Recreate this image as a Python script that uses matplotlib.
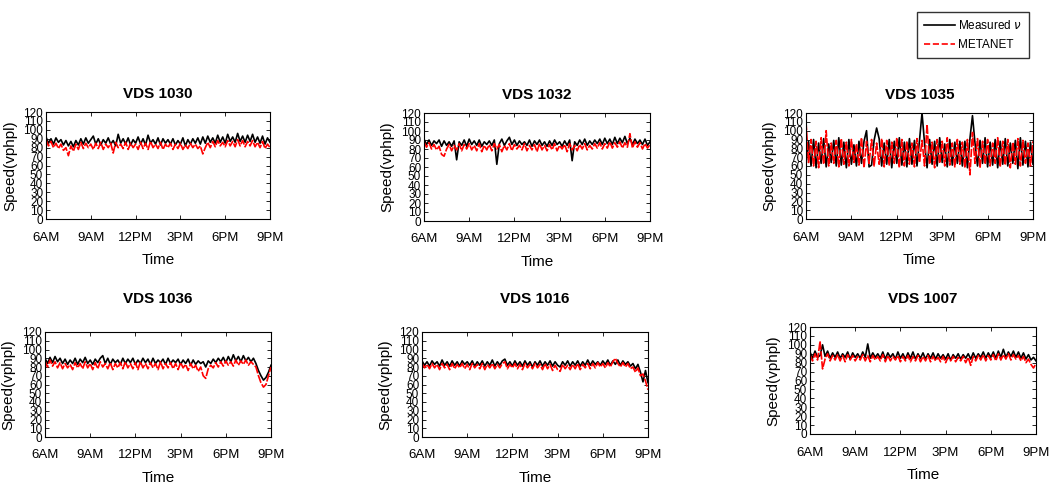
import numpy as np
import matplotlib.pyplot as plt
from matplotlib.lines import Line2D

plt.rcParams['font.family'] = ['Liberation Sans Narrow', 'Liberation Sans', 'DejaVu Sans']

# sampling every 10 minutes from 6AM to 9PM
hours = np.linspace(6, 21, 91)
tick_hours = [6, 9, 12, 15, 18, 21]
tick_labels = ['6AM', '9AM', '12PM', '3PM', '6PM', '9PM']

stations = ['VDS 1030', 'VDS 1032', 'VDS 1035', 'VDS 1036', 'VDS 1016', 'VDS 1007']

meas_1030 = [92, 85, 90, 84, 91, 86, 89, 83, 88, 82,
             87, 81, 88, 83, 90, 84, 91, 85, 89, 93,
             84, 90, 83, 89, 85, 91, 84, 88, 82, 95,
             85, 90, 84, 91, 83, 89, 85, 92, 84, 90,
             83, 94, 85, 89, 84, 91, 83, 90, 85, 89,
             84, 90, 83, 88, 84, 91, 82, 89, 84, 90,
             85, 91, 84, 92, 85, 93, 86, 91, 85, 94,
             86, 92, 85, 95, 87, 92, 86, 96, 87, 93,
             86, 94, 87, 95, 86, 92, 85, 93, 84, 91, 86]
model_1030 = [89, 82, 87, 80, 85, 79, 84, 77, 80, 71,
              82, 76, 84, 78, 86, 79, 85, 80, 84, 78,
              85, 79, 86, 78, 84, 80, 85, 74, 86, 80,
              84, 79, 86, 78, 85, 80, 84, 78, 86, 79,
              85, 78, 87, 80, 84, 79, 86, 78, 84, 80,
              85, 78, 84, 79, 85, 78, 83, 79, 85, 80,
              84, 79, 82, 73, 80, 86, 80, 87, 81, 88,
              82, 86, 81, 88, 82, 87, 81, 89, 82, 88,
              81, 87, 82, 88, 81, 86, 80, 87, 79, 84, 80]

meas_1032 = [91, 85, 90, 84, 89, 86, 90, 83, 89, 84,
             88, 83, 89, 68, 88, 84, 90, 83, 91, 85,
             89, 84, 90, 83, 88, 85, 89, 84, 90, 63,
             86, 91, 84, 89, 93, 85, 90, 84, 89, 85,
             88, 84, 90, 83, 89, 85, 90, 84, 88, 83,
             89, 84, 90, 85, 88, 83, 89, 84, 90, 67,
             88, 84, 90, 85, 91, 84, 89, 85, 90, 86,
             91, 85, 92, 86, 91, 85, 93, 86, 92, 87,
             94, 86, 92, 85, 91, 86, 90, 85, 91, 84, 88]
model_1032 = [88, 82, 87, 80, 85, 79, 83, 74, 72, 80,
              85, 78, 84, 79, 86, 78, 85, 80, 86, 79,
              84, 78, 86, 77, 84, 79, 85, 78, 86, 80,
              85, 77, 84, 79, 86, 78, 85, 80, 84, 79,
              86, 78, 84, 79, 85, 77, 86, 79, 84, 78,
              85, 79, 86, 78, 84, 80, 85, 77, 86, 79,
              84, 78, 85, 80, 86, 79, 84, 80, 86, 81,
              87, 80, 86, 81, 88, 81, 87, 82, 88, 81,
              87, 82, 97, 81, 88, 82, 87, 80, 86, 81, 85]

meas_1035 = [62, 88, 60, 90, 58, 86, 63, 91, 59, 85,
             64, 89, 60, 92, 61, 87, 58, 90, 62, 84,
             60, 88, 63, 88, 100, 59, 61, 89, 103, 91,
             60, 86, 62, 90, 58, 88, 63, 92, 61, 87,
             59, 91, 62, 89, 60, 89, 120, 86, 58, 90,
             62, 88, 60, 92, 64, 85, 59, 90, 61, 87,
             63, 88, 60, 88, 58, 91, 117, 86, 60, 89,
             63, 92, 59, 87, 61, 90, 58, 88, 62, 91,
             60, 86, 63, 89, 57, 92, 61, 88, 59, 87, 62]
model_1035 = [110, 64, 90, 60, 88, 58, 92, 62, 100, 60,
              86, 63, 89, 59, 91, 62, 87, 60, 90, 64,
              85, 61, 92, 58, 88, 63, 90, 60, 86, 62,
              91, 59, 89, 61, 87, 63, 92, 58, 90, 60,
              88, 62, 86, 59, 91, 64, 89, 60, 107, 62,
              87, 58, 90, 63, 88, 60, 92, 61, 86, 59,
              90, 62, 87, 58, 90, 50, 98, 63, 91, 58,
              88, 62, 90, 60, 86, 63, 92, 59, 88, 61,
              90, 58, 87, 62, 91, 60, 89, 63, 86, 60, 88]

meas_1036 = [90, 84, 91, 85, 92, 86, 90, 84, 89, 83,
             88, 84, 90, 83, 89, 85, 91, 84, 88, 83,
             89, 85, 90, 93, 84, 90, 83, 89, 85, 88,
             83, 90, 84, 89, 85, 90, 83, 88, 84, 90,
             85, 89, 83, 90, 84, 88, 85, 89, 83, 90,
             84, 88, 85, 89, 83, 88, 84, 89, 82, 88,
             83, 87, 84, 86, 80, 87, 84, 89, 85, 90,
             86, 91, 85, 92, 86, 94, 87, 92, 86, 93,
             87, 91, 86, 90, 84, 76, 70, 65, 68, 74, 82]
model_1036 = [87, 80, 88, 81, 86, 79, 85, 78, 84, 79,
              83, 77, 85, 79, 84, 78, 86, 79, 84, 77,
              85, 78, 86, 80, 84, 78, 85, 77, 84, 79,
              85, 78, 86, 79, 84, 78, 85, 77, 86, 79,
              84, 78, 85, 79, 84, 77, 86, 78, 84, 79,
              85, 78, 84, 77, 85, 79, 83, 76, 84, 78,
              82, 75, 80, 70, 67, 78, 82, 79, 85, 80,
              86, 81, 87, 82, 86, 81, 88, 82, 87, 83,
              88, 82, 86, 83, 80, 70, 62, 57, 60, 70, 80]

meas_1016 = [87, 82, 86, 81, 87, 83, 86, 81, 88, 82,
             86, 81, 87, 82, 86, 81, 87, 83, 86, 82,
             87, 81, 86, 82, 87, 81, 86, 82, 88, 81,
             86, 82, 87, 89, 82, 86, 81, 87, 82, 86,
             81, 87, 82, 86, 80, 86, 82, 87, 81, 86,
             82, 87, 81, 86, 82, 80, 86, 82, 87, 81,
             86, 82, 87, 81, 86, 82, 88, 82, 87, 83,
             86, 82, 87, 83, 88, 82, 87, 83, 88, 82,
             87, 83, 86, 81, 84, 78, 83, 74, 63, 76, 62]
model_1016 = [84, 79, 83, 78, 84, 79, 83, 77, 84, 79,
              83, 77, 84, 78, 83, 79, 84, 78, 83, 77,
              84, 79, 83, 78, 84, 77, 83, 79, 84, 78,
              83, 79, 84, 86, 78, 83, 79, 84, 78, 83,
              77, 84, 79, 83, 78, 84, 79, 83, 77, 84,
              78, 83, 76, 82, 77, 75, 83, 78, 82, 77,
              83, 78, 84, 77, 83, 79, 84, 78, 84, 79,
              85, 80, 84, 79, 85, 80, 86, 90, 84, 80,
              85, 80, 84, 78, 80, 74, 79, 70, 72, 64, 54]

meas_1007 = [92, 85, 93, 86, 88, 100, 87, 93, 85, 91,
             86, 92, 85, 90, 86, 92, 84, 91, 86, 90,
             85, 92, 86, 101, 85, 91, 86, 90, 85, 92,
             84, 91, 86, 90, 84, 92, 85, 90, 84, 91,
             85, 92, 84, 90, 85, 91, 84, 90, 85, 91,
             84, 90, 85, 89, 84, 90, 83, 89, 85, 90,
             84, 89, 85, 90, 84, 91, 85, 90, 86, 92,
             85, 91, 86, 92, 85, 93, 86, 95, 86, 92,
             87, 93, 86, 92, 85, 91, 84, 89, 83, 86, 82]
model_1007 = [89, 82, 90, 83, 104, 73, 84, 90, 82, 88,
              83, 89, 82, 88, 81, 89, 83, 88, 82, 87,
              83, 89, 82, 88, 81, 88, 83, 87, 82, 89,
              81, 88, 82, 87, 83, 88, 81, 87, 82, 88,
              81, 87, 82, 88, 81, 87, 82, 88, 81, 87,
              82, 86, 81, 87, 80, 86, 82, 87, 81, 86,
              82, 87, 80, 86, 77, 87, 82, 88, 83, 89,
              82, 88, 83, 89, 82, 90, 83, 89, 84, 90,
              83, 89, 84, 88, 82, 87, 80, 84, 78, 74, 79]

measured = [meas_1030, meas_1032, meas_1035, meas_1036, meas_1016, meas_1007]
metanet = [model_1030, model_1032, model_1035, model_1036, model_1016, model_1007]

W, H = 1050, 487
# axes boxes in pixels: left, top, right, bottom, plus title pad in points
boxes = [(46, 112, 270, 219, 10), (424, 113, 650, 221, 10), (806, 113, 1033, 219, 10),
         (45, 332, 271, 437, 21), (422, 332, 648, 437, 21), (810, 327, 1036, 434, 17)]

fig = plt.figure(figsize=(W / 100, H / 100), dpi=100)

for name, m, r, (x0, y0, x1, y1, tpad) in zip(stations, measured, metanet, boxes):
    ax = fig.add_axes([x0 / W, 1 - y1 / H, (x1 - x0) / W, (y1 - y0) / H])
    ax.plot(hours, m, color='black', lw=1.2)
    ax.plot(hours, r, color='red', lw=1.2, ls='--', dashes=(5, 1))
    ax.set_xlim(6, 21)
    ax.set_ylim(0, 120)
    ax.set_xticks(tick_hours)
    ax.set_xticklabels(tick_labels, fontsize=9.5)
    ax.set_yticks(range(0, 121, 10))
    ax.set_yticklabels([str(v) for v in range(0, 121, 10)], fontsize=8.5)
    ax.tick_params(direction='in', top=True, right=True, length=3, width=0.6, pad=2)
    ax.tick_params(axis='x', pad=9)
    for s in ax.spines.values():
        s.set_linewidth(0.8)
    ax.set_title(name, fontsize=11, fontweight='bold', pad=tpad)
    ax.set_xlabel('Time', fontsize=11, labelpad=7)
    ax.set_ylabel('Speed(vphpl)', fontsize=11, family=['Liberation Sans', 'DejaVu Sans'])
    ax.yaxis.set_label_coords(-0.13, 0.5)

handles = [Line2D([], [], color='black', lw=1.2),
           Line2D([], [], color='red', lw=1.2, ls='--')]
fig.legend(handles, ['Measured $\\nu$', 'METANET'], loc='upper right',
           bbox_to_anchor=(1035 / W, 1 - 6 / H), fontsize=8.5, frameon=True,
           fancybox=False, edgecolor='black', handlelength=2.6,
           borderpad=0.6, labelspacing=0.6, handletextpad=0.3)

fig.savefig('out.png', dpi=100)
